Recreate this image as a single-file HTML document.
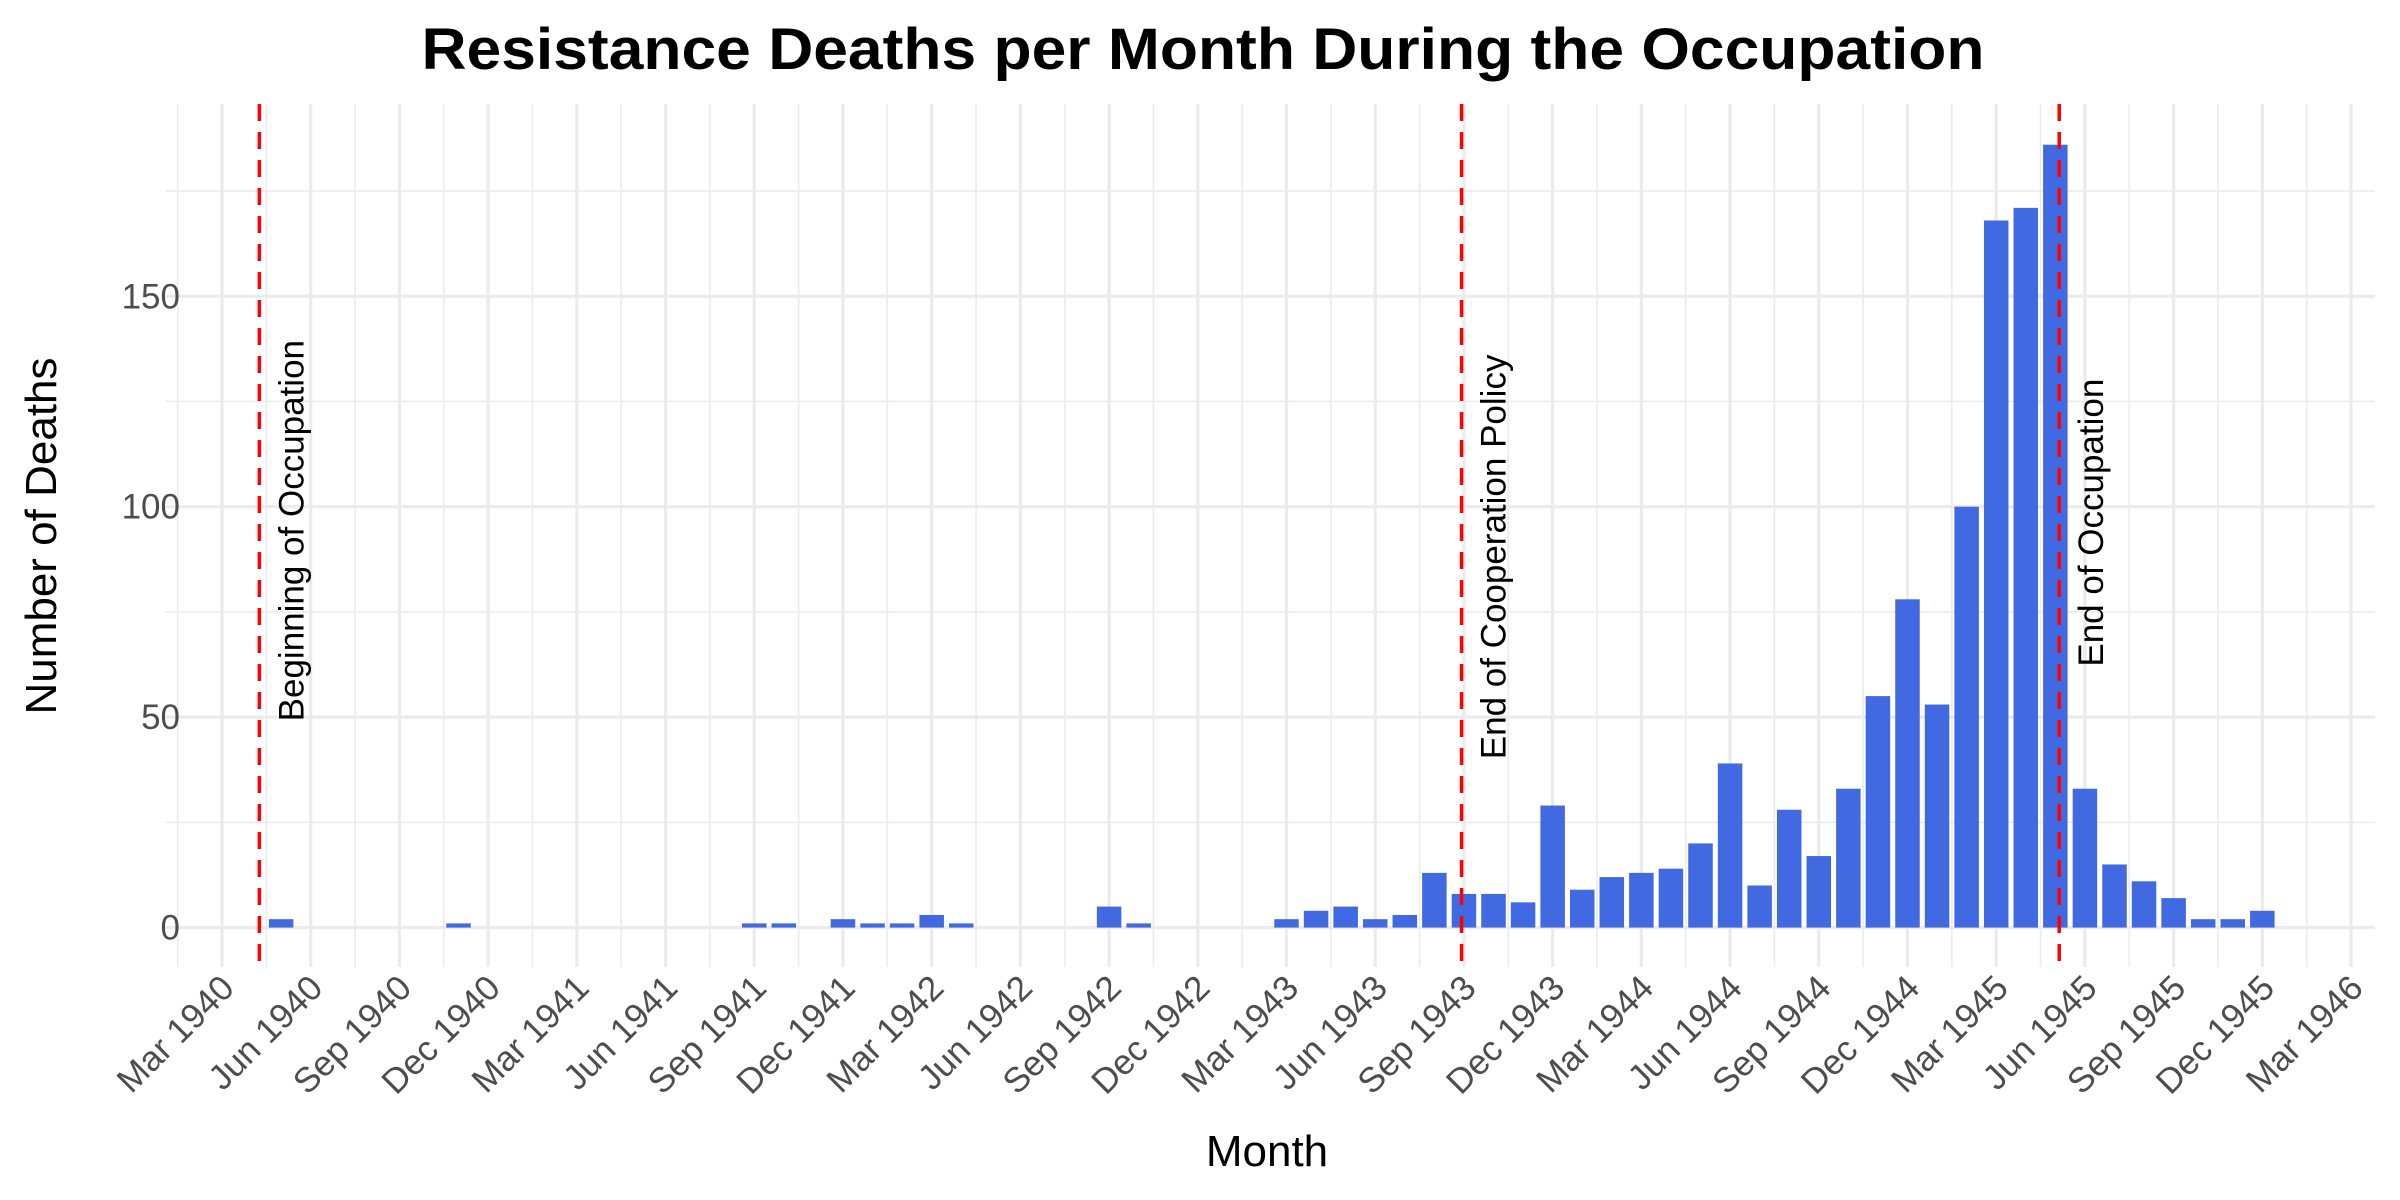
<!DOCTYPE html>
<html><head><meta charset="utf-8"><style>
html,body{margin:0;padding:0;background:#fff;}
svg{display:block;font-family:"Liberation Sans",sans-serif;}
</style></head><body>
<svg id="chart" width="2400" height="1200" xmlns="http://www.w3.org/2000/svg">
<text x="1203" y="69" text-anchor="middle" font-size="58" font-weight="bold" fill="#000" textLength="1563" lengthAdjust="spacingAndGlyphs">Resistance Deaths per Month During the Occupation</text>
<text transform="translate(56,536) rotate(-90)" text-anchor="middle" font-size="44" fill="#000">Number of Deaths</text>
<text x="1267" y="1166" text-anchor="middle" font-size="44" fill="#000">Month</text>
<g id="grid"></g>
<g id="bars"></g>
<g id="vlines"></g>
<g id="axes"></g>
</svg>
<script>
const months = ["1940-05","1940-11","1941-09","1941-10","1941-12","1942-01","1942-02","1942-03","1942-04","1942-09","1942-10",
"1943-03","1943-04","1943-05","1943-06","1943-07","1943-08","1943-09","1943-10","1943-11","1943-12",
"1944-01","1944-02","1944-03","1944-04","1944-05","1944-06","1944-07","1944-08","1944-09","1944-10","1944-11","1944-12",
"1945-01","1945-02","1945-03","1945-04","1945-05","1945-06","1945-07","1945-08","1945-09","1945-10","1945-11","1945-12"];
const deaths = [2,1,1,1,2,1,1,3,1,5,1,
2,4,5,2,3,13,8,8,6,29,
9,12,13,14,20,39,10,28,17,33,55,78,
53,100,168,171,186,33,15,11,7,2,2,4];
const yTicks = [0,50,100,150];
const xTickLabels = ["Mar 1940","Jun 1940","Sep 1940","Dec 1940","Mar 1941","Jun 1941","Sep 1941","Dec 1941","Mar 1942","Jun 1942","Sep 1942","Dec 1942","Mar 1943","Jun 1943","Sep 1943","Dec 1943","Mar 1944","Jun 1944","Sep 1944","Dec 1944","Mar 1945","Jun 1945","Sep 1945","Dec 1945","Mar 1946"];
const eventDates = ["1940-04-09","1943-08-29","1945-05-05"];
const eventLabels = ["Beginning of Occupation","End of Cooperation Policy","End of Occupation"];
const eventLabelY = [49,40,62];

const NS="http://www.w3.org/2000/svg";
const PL=165,PR=2375,PT=104,PB=967;
const monthW=29.57;
function xDate(s){const p=s.split("-").map(Number);const d=p[2]||1;return 222+((p[0]-1940)*12+(p[1]-3)+(d-1)/30.44)*monthW;}
function yVal(v){return 927.6-v*4.209;}
function mk(tag,attrs,parent){const e=document.createElementNS(NS,tag);for(const k in attrs)e.setAttribute(k,attrs[k]);parent.appendChild(e);return e;}
const grid=document.getElementById("grid"),bars=document.getElementById("bars"),vl=document.getElementById("vlines"),axes=document.getElementById("axes");
for(let v=-25;v<=200;v+=25){const y=yVal(v);if(y<PT||y>PB)continue;const major=v%50===0;
 const l=mk("line",{x1:PL,x2:PR,y1:y,y2:y,stroke:"#ebebeb","stroke-width":major?3.2:1.6},grid);
 
 }
for(let m=-3;m<=78;m+=1.5){const x=222+m*monthW;if(x<PL||x>PR)continue;const major=(m%3===0);
 const l=mk("line",{x1:x,x2:x,y1:PT,y2:PB,stroke:"#ebebeb","stroke-width":major?3.2:1.6},grid);
 
 }
const bw=24.5;
months.forEach((m,i)=>{const x=xDate(m);const y=yVal(deaths[i]);
 const r=mk("rect",{x:x-bw/2,y:y,width:bw,height:yVal(0)-y,fill:"#4169e1"},bars);
 
 });
eventDates.forEach((d,i)=>{const x=xDate(d);
 const l=mk("line",{x1:x,x2:x,y1:PT,y2:PB,stroke:"#ff0000","stroke-width":3.5,"stroke-dasharray":"17 11"},vl);
 
 
 const t=mk("text",{transform:`translate(${x+44},${yVal(eventLabelY[i])}) rotate(-90)`,"font-size":35,fill:"#000"},vl);
 t.textContent=eventLabels[i];
 
 });
yTicks.forEach(v=>{const t=mk("text",{x:180,y:yVal(v)+12,"text-anchor":"end","font-size":35,fill:"#4d4d4d"},axes);
 t.textContent=v;
 
 });
xTickLabels.forEach((s,i)=>{const x=222+i*3*monthW;
 const t=mk("text",{transform:`translate(${x+14},${990}) rotate(-45)`,"text-anchor":"end","font-size":35,fill:"#4d4d4d"},axes);
 t.textContent=s;
 
 });
</script>
</body></html>
